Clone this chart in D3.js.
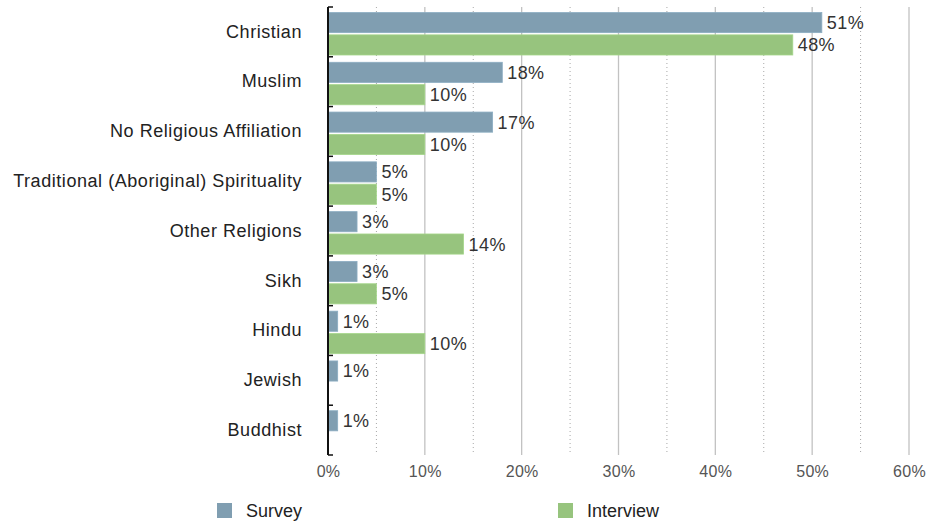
<!DOCTYPE html>
<html>
<head>
<meta charset="utf-8">
<script src="https://cdn.jsdelivr.net/npm/d3@7"></script>
<style>
  html, body { margin: 0; padding: 0; background: #fff; }
  svg { display: block; font-family: "Liberation Sans", Arial, Helvetica, sans-serif; }
</style>
</head>
<body>
<svg id="chart" width="930" height="523"></svg>
<script>
// Religious affiliation, survey vs. interview respondents (percent)
const categories = [
  "Christian", "Muslim", "No Religious Affiliation",
  "Traditional (Aboriginal) Spirituality", "Other Religions",
  "Sikh", "Hindu", "Jewish", "Buddhist"
];
const seriesNames = ["Survey", "Interview"];
const surveyValues    = [51, 18, 17, 5, 3, 3, 1, 1, 1];
const interviewValues = [48, 10, 10, 5, 14, 5, 10, null, null];
const xTickValues = [0, 10, 20, 30, 40, 50, 60];
const xMinorTicks = [5, 15, 25, 35, 45, 55];
const seriesColors = ["#809eb1", "#97c47e"];

const svg = d3.select("#chart");
const x = d3.scaleLinear().domain([0, 60]).range([328, 909]);
const y = d3.scaleBand().domain(categories).range([7, 455]);
const sub = d3.scaleBand().domain(seriesNames).range([5.5, 48]).paddingInner(0.1);
const color = d3.scaleOrdinal().domain(seriesNames).range(seriesColors);

const plotTop = y.range()[0], plotBottom = y.range()[1];

// gridlines: solid at every 10%, dotted halfway between
svg.append("g").selectAll("line").data(xTickValues.slice(1)).join("line")
  .attr("x1", d => x(d)).attr("x2", d => x(d))
  .attr("y1", plotTop).attr("y2", plotBottom)
  .attr("stroke", "#c2c2c2").attr("stroke-width", 1.3);
svg.append("g").selectAll("line").data(xMinorTicks).join("line")
  .attr("x1", d => x(d)).attr("x2", d => x(d))
  .attr("y1", plotTop).attr("y2", plotBottom)
  .attr("stroke", "#a8a8a8").attr("stroke-width", 1)
  .attr("stroke-dasharray", "1,3");

// bars
const rows = categories.map((c, i) => ({
  cat: c,
  vals: [
    { s: "Survey", v: surveyValues[i] },
    { s: "Interview", v: interviewValues[i] }
  ].filter(d => d.v !== null)
}));

const grp = svg.append("g").selectAll("g").data(rows).join("g")
  .attr("transform", d => `translate(0,${y(d.cat)})`);

grp.selectAll("rect").data(d => d.vals).join("rect")
  .attr("x", x(0))
  .attr("y", d => sub(d.s))
  .attr("width", d => x(d.v) - x(0))
  .attr("height", sub.bandwidth())
  .attr("fill", d => color(d.s))
  .attr("stroke", d => d3.color(color(d.s)).brighter(0.25))
  .attr("stroke-width", 0.8);

grp.selectAll("text").data(d => d.vals).join("text")
  .attr("x", d => x(d.v) + 5)
  .attr("y", d => sub(d.s) + sub.bandwidth() / 2)
  .attr("dy", "0.36em")
  .attr("font-size", 18)
  .attr("letter-spacing", 0.4)
  .attr("fill", "#333")
  .text(d => d.v + "%");

// category axis
const yAxis = svg.append("g")
  .attr("transform", `translate(${x(0)},0)`)
  .call(d3.axisLeft(y).tickSize(0).tickPadding(26));
yAxis.select(".domain").remove();
yAxis.selectAll("text").attr("font-size", 18).attr("letter-spacing", 0.55)
  .attr("fill", "#222");

// axis line with inward boundary ticks
const boundaries = categories.map(c => y(c)).concat([plotBottom]);
svg.append("g").selectAll("line").data(boundaries).join("line")
  .attr("x1", x(0)).attr("x2", x(0) + 5)
  .attr("y1", d => d).attr("y2", d => d)
  .attr("stroke", "#111").attr("stroke-width", 1.5);
svg.append("line")
  .attr("x1", x(0)).attr("x2", x(0))
  .attr("y1", plotTop).attr("y2", plotBottom)
  .attr("stroke", "#111").attr("stroke-width", 2);

// value axis labels
const xAxis = svg.append("g")
  .attr("transform", `translate(0,${plotBottom})`)
  .call(d3.axisBottom(x).tickValues(xTickValues).tickSize(0).tickPadding(11)
    .tickFormat(d => d + "%"));
xAxis.select(".domain").remove();
xAxis.selectAll("text").attr("font-size", 16).attr("letter-spacing", 0.3)
  .attr("fill", "#555");

// legend
const legendX = [217, 558];
const legend = svg.append("g").selectAll("g").data(seriesNames).join("g")
  .attr("transform", (d, i) => `translate(${legendX[i]},503)`);
legend.append("rect").attr("width", 15).attr("height", 15)
  .attr("fill", d => color(d));
legend.append("text").attr("x", 29).attr("y", 8).attr("dy", "0.36em")
  .attr("font-size", 18).attr("fill", "#222").text(d => d);
</script>
</body>
</html>
